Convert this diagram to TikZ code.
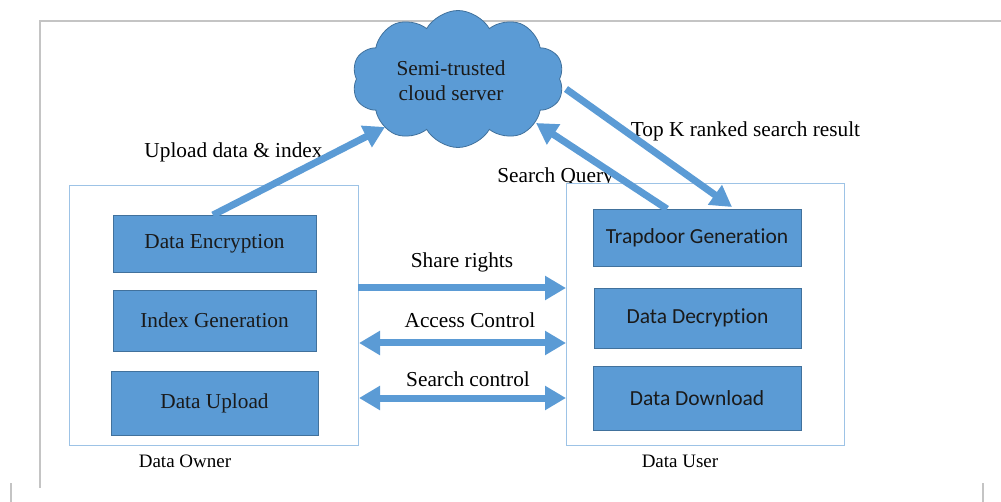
\documentclass[tikz,border=0pt]{standalone}
\usepackage{fontspec}
\setmainfont{Liberation Serif}
\newfontfamily\calib[Ligatures={NoCommon}]{Carlito}
\usetikzlibrary{arrows.meta,shapes.symbols}
\definecolor{fillblue}{HTML}{5B9BD5}
\definecolor{edgeblue}{HTML}{41719C}
\definecolor{lightedge}{HTML}{9DC3E6}
\definecolor{framegray}{HTML}{C4C4C4}
\definecolor{txtdark}{HTML}{1A1A1A}
\begin{document}
\begin{tikzpicture}[x=1pt,y=-1pt,
  lbl/.style={font=\fontsize{21.3}{25}\selectfont, anchor=base, inner sep=0pt},
  party/.style={draw=lightedge, line width=1pt, fill=white, rectangle, inner sep=0pt},
  ownerbox/.style={draw=edgeblue, line width=0.8pt, fill=fillblue, rectangle, inner sep=0pt,
     text=txtdark, font=\fontsize{21.3}{25}\selectfont},
  userbox/.style={ownerbox, font=\calib\fontsize{21.5}{25}\selectfont},
  bigarrow/.style={draw=fillblue, line width=7pt, -{Triangle[length=21pt,width=23pt]}},
  dblarrow/.style={draw=fillblue, line width=7pt, {Triangle[length=21pt,width=23pt]}-{Triangle[length=21pt,width=23pt]}},
  framestyle/.style={draw=framegray, line width=1.4pt}
]
\useasboundingbox (0,0) rectangle (1001,502);

% page frame
\coordinate (f1) at (40,21);
\coordinate (f2) at (1001,21);
\coordinate (f3) at (40,488);
\draw[framestyle] (f2) -- (f1) -- (f3);
\coordinate (t1a) at (11,483); \coordinate (t1b) at (11,502);
\coordinate (t2a) at (983,483); \coordinate (t2b) at (983,502);
\draw[framestyle] (t1a) -- (t1b);
\draw[framestyle] (t2a) -- (t2b);

% labels
\node[lbl] (lupload) at (233.5,158) {Upload data \& index};
\node[lbl] (ltopk) at (745.5,137) {Top K ranked search result};
\node[lbl] (lquery) at (555.5,183) {Search Query};
\node[lbl] (lshare) at (462,268) {Share rights};
\node[lbl] (laccess) at (470,328) {Access Control};
\node[lbl] (lsearch) at (468,387) {Search control};
\node[lbl, font=\fontsize{19}{23}\selectfont] (lowner) at (185,467) {Data Owner};
\node[lbl, font=\fontsize{19}{23}\selectfont] (luser) at (680,467) {Data User};

% party boxes
\node[party, minimum width=289pt, minimum height=259pt] (owner) at (213.5,315.5) {};
\node[party, minimum width=278pt, minimum height=261pt] (user) at (705,314.5) {};

% owner modules
\node[ownerbox, minimum width=203pt, minimum height=57pt] (enc) at (214.5,243.5) {Data Encryption};
\node[ownerbox, minimum width=203pt, minimum height=61pt] (idx) at (214.5,320.5) {Index Generation};
\node[ownerbox, minimum width=207pt, minimum height=64pt] (upl) at (214.5,403) {Data Upload};

% user modules
\node[userbox, minimum width=208pt, minimum height=57pt] (trap) at (697,237.5) {Trapdoor Generation};
\node[userbox, minimum width=207pt, minimum height=60pt] (dec) at (697.5,318) {Data Decryption};
\node[userbox, minimum width=208pt, minimum height=64pt] (dl) at (697,398) {Data Download};

% cloud
\node[cloud, cloud puffs=10, cloud puff arc=120, aspect=1.5, draw=edgeblue, line width=0.8pt,
      fill=fillblue, minimum width=212pt, minimum height=137pt, inner sep=0pt] (cloud) at (458,79) {};
\node[font=\fontsize{21.3}{25}\selectfont, align=center, inner sep=0pt, text=txtdark] (cloudtxt) at (451,81)
   {Semi-trusted\\cloud server};

% connector end points
\coordinate (upA) at (213,215);
\coordinate (upB) at (385,127);
\coordinate (qA) at (667,209);
\coordinate (qB) at (536,123);
\coordinate (kA) at (566,89);
\coordinate (kB) at (732,207);
\coordinate (sA) at (358,288);
\coordinate (sB) at (566,288);
\coordinate (aA) at (359,343);
\coordinate (aB) at (566,343);
\coordinate (cA) at (359,398);
\coordinate (cB) at (566,398);

\draw[bigarrow] (upA) -- (upB);
\draw[bigarrow] (qA) -- (qB);
\draw[bigarrow] (kA) -- (kB);
\draw[bigarrow] (sA) -- (sB);
\draw[dblarrow] (aA) -- (aB);
\draw[dblarrow] (cA) -- (cB);
\end{tikzpicture}
\end{document}
